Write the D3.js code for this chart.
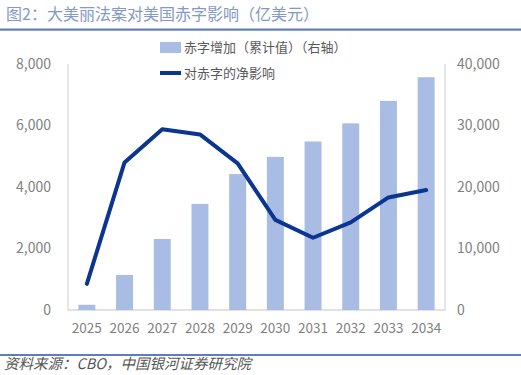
<!DOCTYPE html>
<html lang="zh">
<head>
<meta charset="UTF-8" />
<title>图2</title>
<script src="https://cdn.jsdelivr.net/npm/d3@7"></script>
<style>
    body { margin: 0; background: #fff; }
    text { font-family: "Noto Sans CJK SC", sans-serif; }
</style>
</head>
<body>
<script>
    // data
    let years = ["2025", "2026", "2027", "2028", "2029", "2030", "2031", "2032", "2033", "2034"];
    let deficitAdded = [850, 5700, 11550, 17250, 22100, 24900, 27400, 30350, 34000, 37850]; // right axis
    let netImpact = [850, 4800, 5880, 5710, 4770, 2930, 2350, 2850, 3660, 3900];          // left axis
    let leftTicks = [0, 2000, 4000, 6000, 8000];
    let rightTicks = [0, 10000, 20000, 30000, 40000];

    let w = 521, h = 375;
    let m = { left: 68, right: 76, top: 64, bottom: 65 };

    let svg = d3.select("body").append("svg")
        .attr("width", w)
        .attr("height", h);

    // title and rules
    svg.append("text")
        .attr("x", 6).attr("y", 20)
        .attr("font-size", 16)
        .attr("fill", "#8499c4")
        .text("图2：大美丽法案对美国赤字影响（亿美元）");
    svg.append("rect").attr("x", 0).attr("y", 28.5).attr("width", w).attr("height", 2.2).attr("fill", "#5f7db8");
    svg.append("rect").attr("x", 0).attr("y", 354).attr("width", w).attr("height", 2).attr("fill", "#5f7db8");
    svg.append("text")
        .attr("x", 4).attr("y", 369)
        .attr("font-size", 14.5)
        .attr("font-style", "italic")
        .attr("fill", "#555")
        .text("资料来源：CBO，中国银河证券研究院");

    let x = d3.scaleBand()
        .domain(years)
        .range([m.left, w - m.right])
        .paddingInner(0.55)
        .paddingOuter(0.275);

    let yL = d3.scaleLinear().domain([0, 8000]).range([h - m.bottom, m.top]);
    let yR = d3.scaleLinear().domain([0, 40000]).range([h - m.bottom, m.top]);

    // frame
    let frame = svg.append("g").attr("stroke", "#d9d9d9").attr("stroke-width", 1.3).attr("fill", "none");
    frame.append("path")
        .attr("d", `M${m.left},${m.top} V${h - m.bottom} H${w - m.right} V${m.top}`);

    // bars
    svg.append("g").selectAll("rect")
        .data(deficitAdded)
        .enter()
        .append("rect")
        .attr("x", (d, i) => x(years[i]))
        .attr("width", x.bandwidth())
        .attr("y", d => yR(d))
        .attr("height", d => yR(0) - yR(d))
        .attr("fill", "#a9bde4");

    // line
    let line = d3.line()
        .x((d, i) => x(years[i]) + x.bandwidth() / 2)
        .y(d => yL(d));
    svg.append("path")
        .datum(netImpact)
        .attr("d", line)
        .attr("fill", "none")
        .attr("stroke", "#0a3591")
        .attr("stroke-width", 4)
        .attr("stroke-linejoin", "round")
        .attr("stroke-linecap", "round");

    // axes
    let fmt = d3.format(",");
    let axL = svg.append("g")
        .attr("transform", `translate(${m.left - 14},0)`)
        .call(d3.axisLeft(yL).tickValues(leftTicks).tickFormat(fmt).tickSize(0));
    let axR = svg.append("g")
        .attr("transform", `translate(${w - m.right + 9},0)`)
        .call(d3.axisRight(yR).tickValues(rightTicks).tickFormat(fmt).tickSize(0));
    let axX = svg.append("g")
        .attr("transform", `translate(0,${h - m.bottom + 10})`)
        .call(d3.axisBottom(x).tickSize(0));

    [axL, axR].forEach(a => {
        a.select(".domain").remove();
        a.selectAll("text")
            .attr("font-family", "'Liberation Serif', serif")
            .attr("font-size", 14)
            .attr("fill", "#7f7f7f");
    });
    axX.select(".domain").remove();
    axX.selectAll("text")
        .attr("font-family", "'Liberation Sans', sans-serif")
        .attr("font-size", 13.5)
        .attr("fill", "#7f7f7f");

    // legend
    let lg = svg.append("g");
    lg.append("rect").attr("x", 160).attr("y", 42).attr("width", 21).attr("height", 11).attr("fill", "#a9bde4");
    lg.append("text").attr("x", 184).attr("y", 52).attr("font-size", 13).attr("fill", "#595959")
        .text("赤字增加（累计值）（右轴）");
    lg.append("line").attr("x1", 160).attr("x2", 181).attr("y1", 73).attr("y2", 73)
        .attr("stroke", "#0a3591").attr("stroke-width", 4);
    lg.append("text").attr("x", 184).attr("y", 78).attr("font-size", 13).attr("fill", "#595959")
        .text("对赤字的净影响");
</script>
</body>
</html>
